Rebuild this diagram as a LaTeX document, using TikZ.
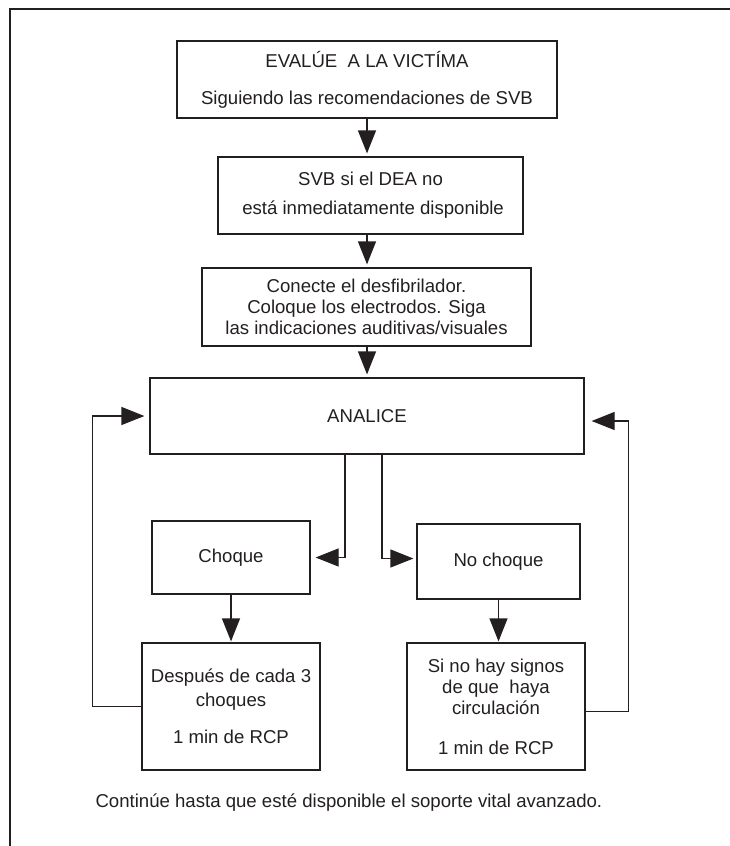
\documentclass[tikz,border=0pt]{standalone}
\usepackage{fontspec}
\setmainfont{Liberation Sans}
\usetikzlibrary{arrows.meta}
\definecolor{tinta}{HTML}{231F20}

\begin{document}
\begin{tikzpicture}[x=1pt,y=-1pt,color=tinta,font=\fontsize{18.6}{21}\selectfont,
    caja/.style={draw, line width=1.2pt, align=center, inner sep=0pt},
    flecha/.style={line width=1.2pt, -{Triangle[width=18pt,length=23pt]}}]

    \useasboundingbox (0,0) rectangle (730,846);
    \draw[line width=1.4pt] (10,846) -- (10,9) -- (730,9);

    \node (evalue) [caja, minimum width=380pt, minimum height=77pt] at (367,79.5) {EVALÚE\ \ A LA VICTÍMA\\[16pt]Siguiendo las recomendaciones de SVB};
    \node (svb) [caja, minimum width=305pt, minimum height=77pt] at (370.5,195.5) {SVB si el DEA no\\[8pt]\ está inmediatamente disponible};
    \node (conecte) [caja, minimum width=329pt, minimum height=78pt] at (366.5,307) {Conecte el desfibrilador.\\Coloque los electrodos. Siga\\las indicaciones auditivas/visuales};
    \node (analice) [caja, minimum width=434pt, minimum height=76pt] at (367,416) {ANALICE};
    \node (choque) [caja, minimum width=158pt, minimum height=73pt] at (231,557.5) {Choque};
    \node (nochoque) [caja, minimum width=163pt, minimum height=75pt] at (498.5,561.5) {No choque};
    \node (despues) [caja, minimum width=178pt, minimum height=127pt] at (231,706.5) {Después de cada 3\\[3pt]choques\\[16pt]1 min de RCP};
    \node (sinohay) [caja, minimum width=178pt, minimum height=127pt] at (496,706.5) {\fontsize{18.6}{18.5}\selectfont Si no hay signos\\de que\ \ haya\\circulación\\[19pt]1 min de RCP};
    \node (continue) [anchor=west] at (92,803) {Continúe hasta que esté disponible el soporte vital avanzado.};

    \draw[flecha, shorten >=3pt] (evalue.south) -- (evalue.south |- svb.north);
    \draw[flecha, shorten >=3pt] (evalue.south |- svb.south) -- (evalue.south |- conecte.north);
    \draw[flecha, shorten >=3pt] (evalue.south |- conecte.south) -- (evalue.south |- analice.north);
    \draw[flecha, shorten >=5pt] ([xshift=-22pt]analice.south) |- (choque.east);
    \draw[flecha, shorten >=3pt] ([xshift=15pt]analice.south) |- ([yshift=3pt]nochoque.west);
    \draw[flecha, shorten >=1pt] (choque.south) -- (despues.north);
    \draw[flecha, shorten >=1pt] (nochoque.south) -- (nochoque.south |- sinohay.north);
    \draw[flecha, shorten >=5pt] (despues.west) -- ++(-49,0) |- (analice.west);
    \draw[flecha, shorten >=7pt] ([yshift=-5pt]sinohay.east) -- ++(43,0) |- ([yshift=-5pt]analice.east);

\end{tikzpicture}
\end{document}
